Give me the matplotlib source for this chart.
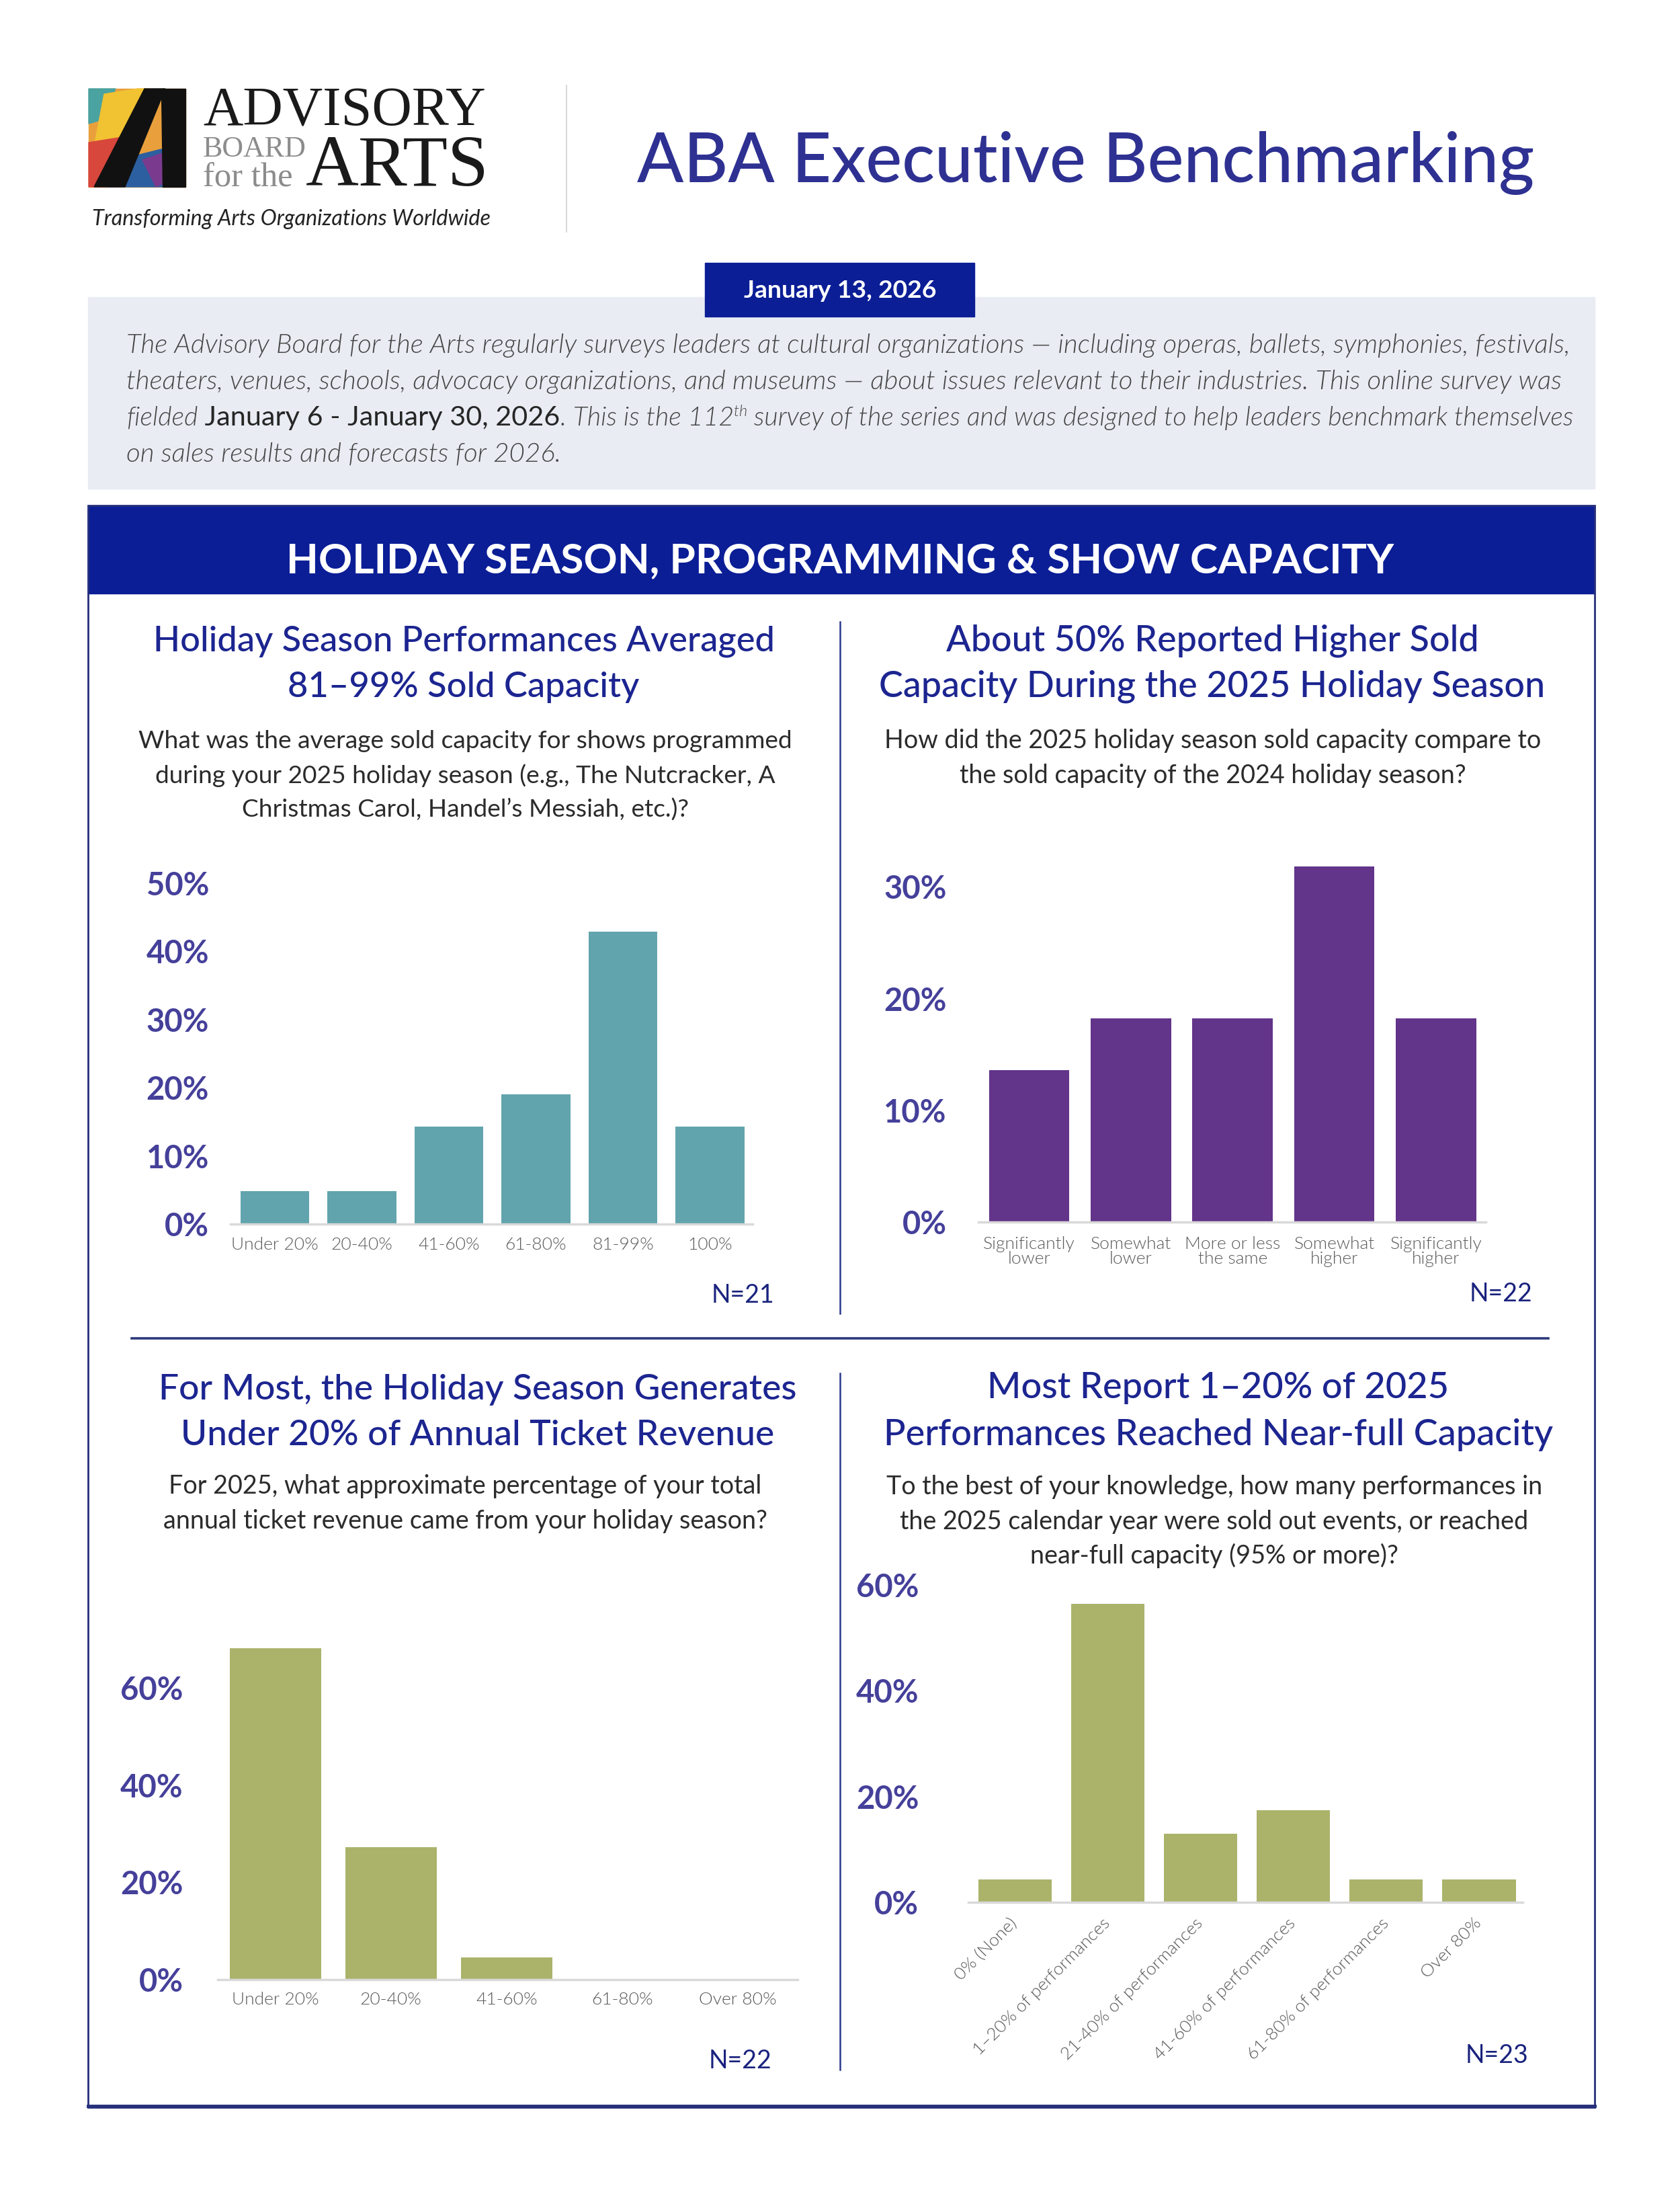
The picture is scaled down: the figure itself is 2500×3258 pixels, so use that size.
import matplotlib
matplotlib.use('Agg')
import matplotlib.pyplot as plt
from matplotlib.patches import Rectangle, Polygon

plt.rcParams['font.family'] = ['Lato', 'DejaVu Sans']

W, H = 2500, 3258

# --- survey results (share of respondents, %) ---
cap_cats = ['Under 20%', '20-40%', '41-60%', '61-80%', '81-99%', '100%']
cap_vals = [4.8, 4.8, 14.3, 19.0, 42.9, 14.3]
cap_ticks = [0, 10, 20, 30, 40, 50]
cap_n = 'N=21'

cmp_cats = ['Significantly\nlower', 'Somewhat\nlower', 'More or less\nthe same',
            'Somewhat\nhigher', 'Significantly\nhigher']
cmp_vals = [13.6, 18.2, 18.2, 31.8, 18.2]
cmp_ticks = [0, 10, 20, 30]
cmp_n = 'N=22'

rev_cats = ['Under 20%', '20-40%', '41-60%', '61-80%', 'Over 80%']
rev_vals = [68.2, 27.3, 4.5, 0, 0]
rev_ticks = [0, 20, 40, 60]
rev_n = 'N=22'

full_cats = ['0% (None)', '1–20% of performances', '21-40% of performances',
             '41-60% of performances', '61-80% of performances', 'Over 80%']
full_vals = [4.3, 56.5, 13.0, 17.4, 4.3, 4.3]
full_ticks = [0, 20, 40, 60]
full_n = 'N=23'

NAVY = '#1c2590'
BAND = '#0b1e96'
TICK = '#45409a'
GRAYTXT = '#5a5a5a'
LIGHT = 300

fig = plt.figure(figsize=(W / 100, H / 100), dpi=100)
bg = fig.add_axes([0, 0, 1, 1])
bg.set_xlim(0, W)
bg.set_ylim(H, 0)
bg.axis('off')
rend = fig.canvas.get_renderer()


def fit(texts, width):
    # scale font size so the widest text matches the target pixel width
    for _ in range(2):
        w = max(t.get_window_extent(rend).width for t in texts)
        for t in texts:
            t.set_fontsize(t.get_fontsize() * width / w)
    return texts[0].get_fontsize()


def block(x, ys, lines, width, ha='center', **kw):
    ts = [bg.text(x, y, s, ha=ha, va='baseline', **kw) for s, y in zip(lines, ys)]
    return fit(ts, width)


def draw_runs(x0, y, runs, width):
    # a line made of differently styled pieces, scaled to a target width
    scale = 1.0
    for rnd in range(2):
        x = x0
        ts = []
        for s, kw, dy in runs:
            kw2 = dict(kw)
            kw2['fontsize'] = kw['fontsize'] * scale
            t = bg.text(x, y + dy * scale, s, ha='left', va='baseline', **kw2)
            x += t.get_window_extent(rend).width
            ts.append(t)
        if rnd == 0:
            scale = width / (x - x0)
            for t in ts:
                t.remove()


# ---------------- logo ----------------
bg.add_patch(Rectangle((132, 132), 144, 146, color='#e9a03c', zorder=1))
bg.add_patch(Polygon([(132, 132), (172, 132), (152, 178), (132, 184)], color='#4aa3a0', zorder=2))
bg.add_patch(Polygon([(155, 140), (205, 132), (220, 132), (195, 212), (140, 218)], color='#f1c232', zorder=2))
bg.add_patch(Polygon([(132, 212), (182, 204), (178, 278), (132, 278)], color='#d8473c', zorder=2))
bg.add_patch(Polygon([(168, 240), (240, 222), (276, 236), (276, 278), (160, 278)], color='#2c5fa0', zorder=2))
bg.add_patch(Polygon([(212, 238), (276, 216), (276, 258), (232, 278)], color='#7a3b8f', zorder=2))
bg.add_patch(Polygon([(215, 132), (246, 132), (186, 278), (140, 278)], color='#111111', zorder=3))
bg.add_patch(Polygon([(240, 132), (276, 132), (276, 278), (242, 278)], color='#111111', zorder=3))

serif = ['Liberation Serif', 'DejaVu Serif']
t = bg.text(302, 186, 'ADVISORY', family=serif, color='#1a1a1a',
            ha='left', va='baseline', fontsize=55)
fit([t], 421)
t = bg.text(302, 233, 'BOARD', family=serif, color='#8c8c8c',
            ha='left', va='baseline', fontsize=28)
fit([t], 154)
t = bg.text(302, 277, 'for the', family=serif, color='#8c8c8c',
            ha='left', va='baseline', fontsize=28)
fit([t], 134)
t = bg.text(455, 276, 'ARTS', family=serif, color='#1a1a1a',
            ha='left', va='baseline', fontsize=70)
fit([t], 273)
t = bg.text(137, 326, 'Transforming Arts Organizations Worldwide', style='italic',
            color='#222222', ha='left', va='center', fontsize=20)
fit([t], 591)

bg.plot([843, 843], [127, 345], color='#d0d0d0', lw=1.2)

# ---------------- title ----------------
t = bg.text(948, 271, 'ABA Executive Benchmarking', color='#2e3192', weight='medium',
            ha='left', va='baseline', fontsize=70)
fit([t], 1335)

# ---------------- intro box ----------------
bg.add_patch(Rectangle((131, 442), 2242, 285, color='#e9ecf3', zorder=1))
bg.add_patch(Rectangle((1049, 391), 401, 80, color=BAND, zorder=2))
t = bg.text(1250, 432, 'January 13, 2026', color='white', weight='bold',
            ha='center', va='center', fontsize=22, zorder=3)
fit([t], 286)

para = dict(style='italic', weight=LIGHT, color='#454545')
l1 = bg.text(188, 525, 'The Advisory Board for the Arts regularly surveys leaders at cultural '
             'organizations — including operas, ballets, symphonies, festivals,',
             ha='left', va='baseline', fontsize=22, **para)
psize = fit([l1], 2150)
para['fontsize'] = psize
bg.text(188, 579, 'theaters, venues, schools, advocacy organizations, and museums — about '
        'issues relevant to their industries. This online survey was',
        ha='left', va='baseline', **para)
draw_runs(188, 633, [
    ('fielded', para, 0),
    (' January 6 - January 30, 2026', dict(color='#262626', fontsize=psize * 1.05), 0),
    ('. This is the 112', para, 0),
    ('th', dict(para, fontsize=psize * 0.6), -psize * 0.5),
    (' survey of the series and was designed to help leaders benchmark themselves', para, 0),
], 2150)
bg.text(188, 687, 'on sales results and forecasts for 2026.', ha='left', va='baseline', **para)

# ---------------- section frame ----------------
bg.add_patch(Rectangle((131, 752), 2242, 2383, fill=False, ec='#26307a', lw=2, zorder=4))
bg.add_patch(Rectangle((131, 752), 2242, 131, color=BAND, zorder=3))
bg.plot([131, 2373], [3133, 3133], color='#26307a', lw=3.5, zorder=4)
t = bg.text(1250, 852, 'HOLIDAY SEASON, PROGRAMMING & SHOW CAPACITY', color='white',
            weight='bold', ha='center', va='baseline', fontsize=40, zorder=5)
fit([t], 1650)

bg.plot([1250, 1250], [925, 1954], color='#2c3a8c', lw=1.8)
bg.plot([1250, 1250], [2043, 3079], color='#2c3a8c', lw=1.8)
bg.plot([196, 2304], [1991, 1991], color='#2c3a7c', lw=2.6)

title_kw = dict(color=NAVY, weight='medium', fontsize=36)
q_kw = dict(color='#2b2b2b', fontsize=24)

block(690, [968, 1037], ['Holiday Season Performances Averaged', '81–99% Sold Capacity'], 925, **title_kw)
block(1804, [968, 1037], ['About 50% Reported Higher Sold',
                          'Capacity During the 2025 Holiday Season'], 993, **title_kw)
block(711, [2082, 2150], ['For Most, the Holiday Season Generates',
                          'Under 20% of Annual Ticket Revenue'], 950, **title_kw)
block(1813, [2080, 2150], ['Most Report 1–20% of 2025',
                           'Performances Reached Near-full Capacity'], 998, **title_kw)

block(692, [1113, 1165, 1216], ['What was the average sold capacity for shows programmed',
                                'during your 2025 holiday season (e.g., The Nutcracker, A',
                                'Christmas Carol, Handel’s Messiah, etc.)?'], 975, **q_kw)
block(1805, [1113, 1165], ['How did the 2025 holiday season sold capacity compare to',
                           'the sold capacity of the 2024 holiday season?'], 976, **q_kw)
block(692, [2222, 2274], ['For 2025, what approximate percentage of your total',
                          'annual ticket revenue came from your holiday season?'], 900, **q_kw)
block(1807, [2223, 2275, 2326], ['To the best of your knowledge, how many performances in',
                                 'the 2025 calendar year were sold out events, or reached',
                                 'near-full capacity (95% or more)?'], 977, **q_kw)


# ---------------- charts ----------------
def chart(box, cats, vals, ticks, color, xlim, ylim, ypad, xpad, xsize, rot=0):
    x0, y0, x1, y1 = box
    ax = fig.add_axes([x0 / W, 1 - y1 / H, (x1 - x0) / W, (y1 - y0) / H])
    ax.patch.set_alpha(0)
    ax.bar(range(len(vals)), vals, width=0.79, color=color, zorder=2)
    ax.set_xlim(*xlim)
    ax.set_ylim(*ylim)
    ax.set_yticks(ticks)
    ax.set_yticklabels([f'{v}%' for v in ticks], fontsize=34, weight='bold', color=TICK)
    ax.set_xticks(range(len(cats)))
    if rot:
        ax.set_xticklabels(cats, rotation=rot, ha='right', va='center',
                           rotation_mode='anchor', fontsize=xsize, color=GRAYTXT, weight=LIGHT)
    else:
        ax.set_xticklabels(cats, fontsize=xsize, color=GRAYTXT, weight=LIGHT, linespacing=0.9)
    ax.tick_params(axis='y', length=0, pad=ypad)
    ax.tick_params(axis='x', length=0, pad=xpad)
    for s in ['top', 'right', 'left']:
        ax.spines[s].set_visible(False)
    ax.spines['bottom'].set_color('#d9d9d9')
    ax.spines['bottom'].set_linewidth(2.5)
    return ax


chart((343, 1314, 1120, 1821), cap_cats, cap_vals, cap_ticks, '#62a4ad',
      (-0.51, 5.49), (0, 50), 23, 14, 19)
chart((1456, 1286, 2211, 1818), cmp_cats, cmp_vals, cmp_ticks, '#62348a',
      (-0.5, 4.49), (0, 32), 34, 15, 19)
chart((324, 2439, 1187, 2945), rev_cats, rev_vals, rev_ticks, '#abb36b',
      (-0.5, 4.52), (0, 70), 37, 13, 19)
chart((1441, 2358, 2266, 2830), full_cats, full_vals, full_ticks, '#abb36b',
      (-0.5, 5.47), (0, 60), 53, 20, 19, rot=45)

n_kw = dict(color='#1a237e', ha='right', va='center', fontsize=27)
bg.text(1152, 1927, cap_n, **n_kw)
bg.text(2280, 1925, cmp_n, **n_kw)
bg.text(1148, 3066, rev_n, **n_kw)
bg.text(2274, 3058, full_n, **n_kw)

fig.savefig('out.png', dpi=100)
